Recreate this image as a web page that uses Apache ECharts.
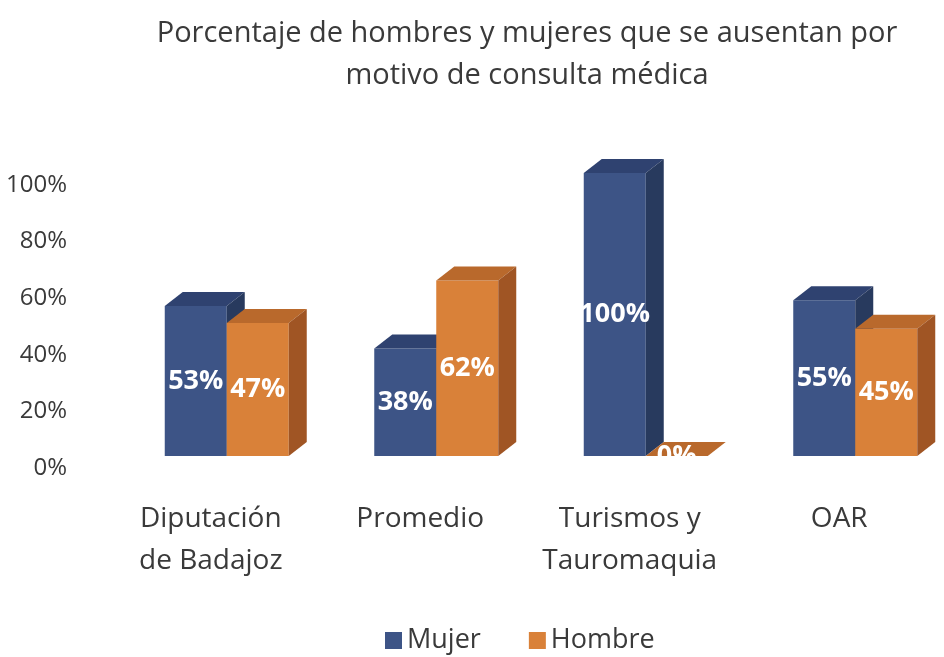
<!DOCTYPE html>
<html>
<head>
<meta charset="utf-8">
<script src="https://cdn.jsdelivr.net/npm/echarts@6/dist/echarts.min.js"></script>
<style>
  html, body { margin: 0; padding: 0; background: #fff; }
  #chart { width: 944px; height: 657px; }
</style>
</head>
<body>
<div id="chart"></div>
<script>
// datos
const categorias = ['Diputación\nde Badajoz', 'Promedio', 'Turismos y\nTauromaquia', 'OAR'];
const mujer = [53, 38, 100, 55];
const hombre = [47, 62, 0, 45];
const ticksY = [0, 20, 40, 60, 80, 100];

const texto = '#3a3a3a';
const fuente = 'Open Sans';

// medidas de la caja 3D (pixeles)
const anchoBarra = 62, fondoX = 18, fondoY = -14, elevar = -12;

// dibuja una barra con cara frontal, superior y lateral
function caja(colores, desplaz) {
    return function (params, api) {
        const base = api.coord([api.value(0), 0]);
        const tope = api.coord([api.value(0), api.value(1)]);
        const x0 = base[0] + desplaz, x1 = x0 + anchoBarra;
        const yb = base[1] + elevar, yt = tope[1] + elevar;
        return {
            type: 'group',
            children: [
                { type: 'polygon', shape: { points: [[x0, yt], [x1, yt], [x1, yb], [x0, yb]] }, style: { fill: colores[0] } },
                { type: 'polygon', shape: { points: [[x0, yt], [x0 + fondoX, yt + fondoY], [x1 + fondoX, yt + fondoY], [x1, yt]] }, style: { fill: colores[1] } },
                { type: 'polygon', shape: { points: [[x1, yt], [x1 + fondoX, yt + fondoY], [x1 + fondoX, yb + fondoY], [x1, yb]] }, style: { fill: colores[2] } },
                {
                    type: 'text',
                    style: {
                        x: (x0 + x1) / 2, y: (yt + yb) / 2,
                        text: api.value(1) + '%',
                        fill: '#fff', font: 'bold 27px "' + fuente + '"',
                        align: 'center', verticalAlign: 'middle'
                    }
                }
            ]
        };
    };
}

const colMujer = ['#3d5486', '#2f4270', '#283a5e'];
const colHombre = ['#d98139', '#b9692c', '#a05524'];

const chart = echarts.init(document.getElementById('chart'));
chart.setOption({
    backgroundColor: '#fff',
    title: {
        text: 'Porcentaje de hombres y mujeres que se ausentan por\nmotivo de consulta médica',
        left: 522,
        top: 8,
        textAlign: 'center',
        textStyle: { fontFamily: fuente, fontSize: 29, fontWeight: 'normal', lineHeight: 42, color: texto }
    },
    legend: {
        data: ['Mujer', 'Hombre'],
        left: 380,
        top: 622,
        icon: 'rect',
        itemWidth: 17,
        itemHeight: 17,
        itemGap: 48,
        textStyle: { fontFamily: fuente, fontSize: 27, color: texto }
    },
    grid: { left: 106, right: -21, top: 185, bottom: 189 },
    xAxis: {
        type: 'category',
        data: categorias,
        axisLine: { show: false },
        axisTick: { show: false },
        axisLabel: { interval: 0, margin: 30, fontFamily: fuente, fontSize: 28, lineHeight: 42, color: texto }
    },
    yAxis: {
        type: 'value',
        min: ticksY[0],
        max: ticksY[ticksY.length - 1],
        interval: 20,
        splitLine: { show: false },
        axisLine: { show: false },
        axisTick: { show: false },
        axisLabel: { margin: 39, formatter: '{value}%', fontFamily: fuente, fontSize: 24, color: texto }
    },
    series: [
        {
            name: 'Mujer',
            type: 'custom',
            itemStyle: { color: colMujer[0] },
            renderItem: caja(colMujer, -46),
            data: mujer.map((v, i) => [i, v])
        },
        {
            name: 'Hombre',
            type: 'custom',
            itemStyle: { color: colHombre[0] },
            renderItem: caja(colHombre, 16),
            data: hombre.map((v, i) => [i, v])
        }
    ]
});
</script>
</body>
</html>
